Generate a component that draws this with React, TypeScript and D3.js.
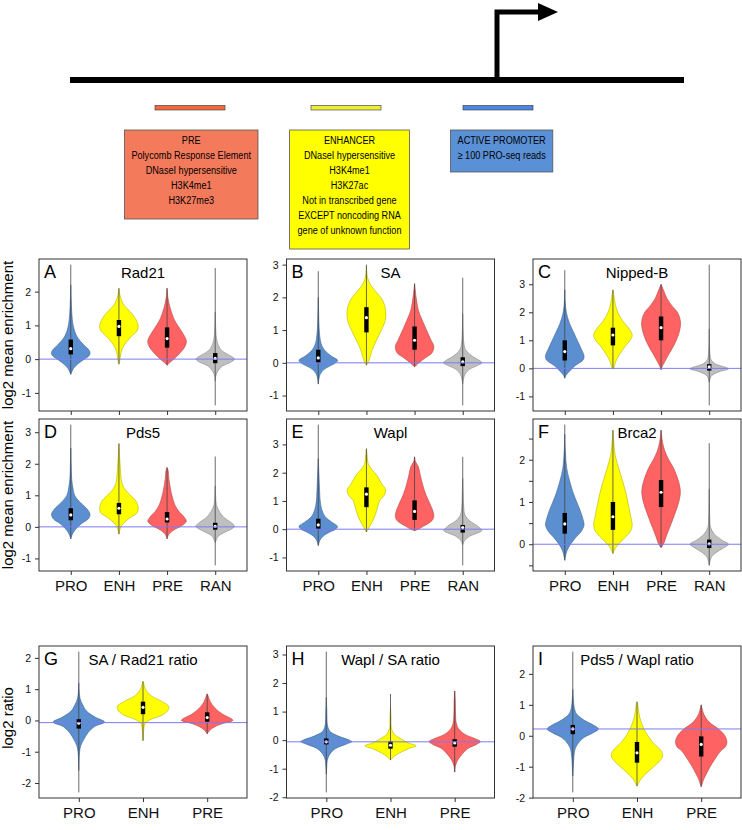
import React, { useRef, useEffect } from 'react';
import * as d3 from 'd3';

type Violin = { g: string; lo: number; hi: number; q1: number; med: number; q3: number; shape: [number, number][] };

// fill colour per site class
const violinFill: Record<string, string> = { PRO: '#5b8fd0', ENH: '#ffff00', PRE: '#ff6262', RAN: '#bfbfbf' };

// shape = [log2 value, relative half width]
const rad21: Violin[] = [
  { g: 'PRO', lo: -0.45, hi: 2.8, q1: 0.14, med: 0.31, q3: 0.58, shape: [[-0.45, 0], [-0.38, 0.05], [-0.27, 0.15], [-0.15, 0.35], [0, 0.7], [0.1, 0.95], [0.2, 1], [0.3, 0.9], [0.42, 0.68], [0.66, 0.33], [0.98, 0.13], [1.39, 0.05], [1.8, 0.02], [2.2, 0]] },
  { g: 'ENH', lo: -0.15, hi: 2.1, q1: 0.68, med: 0.97, q3: 1.16, shape: [[-0.15, 0], [-0.1, 0.03], [0.1, 0.08], [0.3, 0.17], [0.5, 0.38], [0.7, 0.7], [0.85, 0.95], [1.0, 1], [1.2, 0.86], [1.4, 0.6], [1.6, 0.26], [1.9, 0.05], [2.1, 0]] },
  { g: 'PRE', lo: -0.18, hi: 2.1, q1: 0.34, med: 0.61, q3: 0.94, shape: [[-0.18, 0], [-0.1, 0.14], [0, 0.35], [0.2, 0.7], [0.4, 0.95], [0.55, 1], [0.8, 0.78], [1.0, 0.55], [1.2, 0.35], [1.5, 0.17], [1.8, 0.05], [2.1, 0]] },
  { g: 'RAN', lo: -1.37, hi: 2.7, q1: -0.12, med: 0.02, q3: 0.18, shape: [[-0.65, 0], [-0.5, 0.03], [-0.35, 0.14], [-0.2, 0.38], [-0.1, 0.78], [0, 1], [0.1, 0.78], [0.25, 0.35], [0.4, 0.17], [0.6, 0.07], [1.0, 0.02], [1.4, 0]] },
];

const sa: Violin[] = [
  { g: 'PRO', lo: -0.65, hi: 2.8, q1: 0.0, med: 0.15, q3: 0.4, shape: [[-0.65, 0], [-0.5, 0.03], [-0.35, 0.1], [-0.2, 0.31], [-0.1, 0.6], [0, 0.9], [0.08, 1], [0.2, 0.69], [0.4, 0.31], [0.6, 0.14], [1.0, 0.05], [1.5, 0.02], [2.0, 0]] },
  { g: 'ENH', lo: -0.07, hi: 3.0, q1: 0.93, med: 1.38, q3: 1.7, shape: [[-0.07, 0], [0, 0.08], [0.2, 0.2], [0.4, 0.3], [0.7, 0.53], [1.0, 0.78], [1.3, 0.98], [1.6, 1], [1.9, 0.85], [2.1, 0.6], [2.35, 0.25], [2.6, 0.06], [2.95, 0]] },
  { g: 'PRE', lo: -0.12, hi: 2.42, q1: 0.4, med: 0.69, q3: 1.11, shape: [[-0.12, 0], [-0.1, 0.05], [0, 0.22], [0.15, 0.55], [0.3, 0.9], [0.5, 1], [0.7, 0.85], [1.0, 0.62], [1.3, 0.4], [1.6, 0.2], [2.0, 0.08], [2.42, 0]] },
  { g: 'RAN', lo: -1.3, hi: 2.6, q1: -0.1, med: 0.03, q3: 0.17, shape: [[-0.65, 0], [-0.5, 0.04], [-0.35, 0.12], [-0.2, 0.35], [-0.1, 0.7], [0, 1], [0.08, 0.85], [0.2, 0.5], [0.4, 0.15], [0.6, 0.06], [1.0, 0.02], [1.5, 0]] },
];

const nippedB: Violin[] = [
  { g: 'PRO', lo: -0.35, hi: 3.5, q1: 0.28, med: 0.6, q3: 1.0, shape: [[-0.35, 0], [-0.25, 0.06], [-0.1, 0.25], [0.1, 0.55], [0.3, 0.95], [0.45, 1], [0.7, 0.85], [1.0, 0.65], [1.3, 0.45], [1.6, 0.25], [2.0, 0.08], [2.4, 0.02], [2.8, 0]] },
  { g: 'ENH', lo: -0.02, hi: 2.8, q1: 0.82, med: 1.19, q3: 1.45, shape: [[-0.02, 0], [0, 0.04], [0.25, 0.15], [0.5, 0.35], [0.8, 0.65], [1.0, 0.9], [1.2, 1], [1.4, 0.85], [1.7, 0.5], [2.0, 0.25], [2.3, 0.12], [2.6, 0.05], [2.8, 0]] },
  { g: 'PRE', lo: -0.05, hi: 3.0, q1: 1.0, med: 1.45, q3: 1.85, shape: [[-0.05, 0], [0.05, 0.05], [0.25, 0.2], [0.5, 0.4], [0.8, 0.65], [1.1, 0.85], [1.4, 0.98], [1.7, 1], [2.0, 0.85], [2.2, 0.6], [2.5, 0.3], [2.8, 0.12], [3.0, 0]] },
  { g: 'RAN', lo: -1.32, hi: 3.7, q1: -0.08, med: 0.05, q3: 0.15, shape: [[-0.5, 0], [-0.45, 0.02], [-0.3, 0.08], [-0.2, 0.25], [-0.1, 0.6], [-0.02, 1], [0.05, 0.8], [0.15, 0.35], [0.3, 0.1], [0.5, 0.04], [1.0, 0.01], [1.4, 0]] },
];

const pds5: Violin[] = [
  { g: 'PRO', lo: -0.38, hi: 3.24, q1: 0.21, med: 0.38, q3: 0.59, shape: [[-0.38, 0], [-0.25, 0.07], [-0.1, 0.22], [0.1, 0.55], [0.25, 0.9], [0.4, 1], [0.6, 0.8], [0.8, 0.45], [1.0, 0.2], [1.2, 0.12], [1.5, 0.05], [2.0, 0.02], [2.5, 0]] },
  { g: 'ENH', lo: -0.23, hi: 2.64, q1: 0.4, med: 0.59, q3: 0.76, shape: [[-0.23, 0], [-0.15, 0.03], [0, 0.1], [0.15, 0.3], [0.3, 0.6], [0.45, 0.95], [0.6, 1], [0.8, 0.9], [1.0, 0.6], [1.2, 0.3], [1.4, 0.15], [1.8, 0.08], [2.3, 0.03], [2.64, 0]] },
  { g: 'PRE', lo: -0.38, hi: 1.88, q1: 0.14, med: 0.25, q3: 0.47, shape: [[-0.38, 0], [-0.25, 0.08], [-0.1, 0.35], [0.05, 0.8], [0.18, 1], [0.3, 0.9], [0.5, 0.6], [0.7, 0.4], [1.0, 0.25], [1.2, 0.18], [1.5, 0.1], [1.8, 0.05], [1.88, 0]] },
  { g: 'RAN', lo: -1.22, hi: 2.23, q1: -0.09, med: 0.02, q3: 0.13, shape: [[-0.5, 0], [-0.45, 0.03], [-0.3, 0.15], [-0.2, 0.4], [-0.1, 0.75], [0.02, 1], [0.15, 0.8], [0.3, 0.45], [0.5, 0.2], [0.7, 0.06], [1.0, 0.02], [1.3, 0]] },
];

const wapl: Violin[] = [
  { g: 'PRO', lo: -0.58, hi: 3.7, q1: 0.01, med: 0.15, q3: 0.37, shape: [[-0.58, 0], [-0.4, 0.08], [-0.25, 0.25], [-0.1, 0.6], [0, 0.9], [0.1, 1], [0.25, 0.7], [0.45, 0.35], [0.7, 0.18], [1.0, 0.1], [1.5, 0.06], [2.0, 0.03], [2.5, 0]] },
  { g: 'ENH', lo: -0.1, hi: 2.85, q1: 0.78, med: 1.24, q3: 1.48, shape: [[-0.1, 0], [0, 0.08], [0.2, 0.25], [0.4, 0.4], [0.7, 0.55], [1.0, 0.68], [1.2, 0.92], [1.4, 1], [1.6, 0.8], [1.9, 0.55], [2.1, 0.3], [2.3, 0.1], [2.6, 0.04], [2.85, 0]] },
  { g: 'PRE', lo: -0.05, hi: 2.56, q1: 0.33, med: 0.63, q3: 1.02, shape: [[-0.05, 0], [0, 0.2], [0.1, 0.45], [0.3, 0.9], [0.45, 1], [0.6, 0.97], [0.9, 0.8], [1.2, 0.6], [1.5, 0.45], [1.9, 0.3], [2.2, 0.2], [2.4, 0.04], [2.56, 0]] },
  { g: 'RAN', lo: -1.28, hi: 2.56, q1: -0.12, med: 0.06, q3: 0.15, shape: [[-0.55, 0], [-0.4, 0.1], [-0.25, 0.35], [-0.15, 0.7], [-0.05, 1], [0, 0.95], [0.15, 0.7], [0.3, 0.35], [0.5, 0.12], [0.8, 0.05], [1.4, 0.02], [1.8, 0]] },
];

const brca2: Violin[] = [
  { g: 'PRO', lo: -0.38, hi: 2.83, q1: 0.25, med: 0.48, q3: 0.74, shape: [[-0.38, 0], [-0.3, 0.03], [-0.15, 0.12], [0, 0.3], [0.15, 0.55], [0.3, 0.85], [0.45, 1], [0.55, 0.97], [0.8, 0.8], [1.0, 0.62], [1.2, 0.45], [1.5, 0.25], [1.8, 0.1], [2.2, 0.03], [2.6, 0]] },
  { g: 'ENH', lo: -0.22, hi: 2.7, q1: 0.34, med: 0.65, q3: 1.0, shape: [[-0.22, 0], [-0.15, 0.06], [-0.05, 0.2], [0.1, 0.5], [0.3, 0.9], [0.45, 1], [0.6, 0.95], [0.9, 0.82], [1.2, 0.68], [1.5, 0.5], [1.8, 0.3], [2.1, 0.12], [2.5, 0.03], [2.7, 0]] },
  { g: 'PRE', lo: -0.08, hi: 2.7, q1: 0.88, med: 1.23, q3: 1.52, shape: [[-0.08, 0], [0, 0.12], [0.2, 0.28], [0.4, 0.45], [0.7, 0.7], [1.0, 0.92], [1.25, 1], [1.5, 0.9], [1.8, 0.65], [2.0, 0.4], [2.2, 0.2], [2.4, 0.08], [2.6, 0.02], [2.7, 0]] },
  { g: 'RAN', lo: -0.5, hi: 2.39, q1: -0.09, med: 0.01, q3: 0.11, shape: [[-0.5, 0], [-0.45, 0.02], [-0.3, 0.12], [-0.2, 0.35], [-0.1, 0.7], [0, 1], [0.1, 0.65], [0.25, 0.25], [0.4, 0.07], [0.6, 0.03], [1.0, 0.01], [1.3, 0]] },
];

const saRad21: Violin[] = [
  { g: 'PRO', lo: -2.3, hi: 2.2, q1: -0.26, med: -0.09, q3: 0.04, shape: [[-1.6, 0], [-1.3, 0.01], [-1.0, 0.03], [-0.8, 0.08], [-0.6, 0.2], [-0.4, 0.35], [-0.2, 0.6], [-0.05, 1], [0.1, 0.65], [0.3, 0.3], [0.5, 0.15], [0.7, 0.05], [1.0, 0.01], [1.2, 0]] },
  { g: 'ENH', lo: -0.65, hi: 1.25, q1: 0.2, med: 0.42, q3: 0.6, shape: [[-0.65, 0], [-0.55, 0.01], [-0.3, 0.03], [-0.1, 0.08], [0.05, 0.35], [0.15, 0.7], [0.3, 0.95], [0.45, 1], [0.6, 0.75], [0.8, 0.3], [1.0, 0.1], [1.2, 0.02], [1.25, 0]] },
  { g: 'PRE', lo: -0.43, hi: 0.85, q1: -0.04, med: 0.09, q3: 0.26, shape: [[-0.43, 0], [-0.3, 0.12], [-0.2, 0.3], [-0.1, 0.6], [0, 1], [0.05, 0.95], [0.2, 0.6], [0.4, 0.3], [0.6, 0.12], [0.8, 0.03], [0.85, 0]] },
];

const waplSa: Violin[] = [
  { g: 'PRO', lo: -1.83, hi: 3.1, q1: -0.15, med: -0.06, q3: 0.06, shape: [[-1.2, 0], [-0.9, 0.02], [-0.7, 0.04], [-0.5, 0.13], [-0.3, 0.35], [-0.15, 0.75], [-0.05, 1], [0, 0.9], [0.15, 0.45], [0.3, 0.15], [0.5, 0.05], [1.0, 0.02], [1.5, 0]] },
  { g: 'ENH', lo: -0.7, hi: 1.62, q1: -0.3, med: -0.18, q3: -0.04, shape: [[-0.7, 0], [-0.6, 0.1], [-0.45, 0.35], [-0.3, 0.7], [-0.2, 1], [-0.1, 0.7], [0.05, 0.4], [0.2, 0.15], [0.4, 0.04], [0.8, 0.02], [1.2, 0]] },
  { g: 'PRE', lo: -1.12, hi: 1.72, q1: -0.23, med: -0.1, q3: 0.03, shape: [[-1.12, 0], [-0.9, 0.03], [-0.7, 0.12], [-0.5, 0.28], [-0.3, 0.5], [-0.15, 0.85], [-0.05, 1], [0.05, 0.8], [0.2, 0.4], [0.4, 0.15], [0.6, 0.06], [1.0, 0.03], [1.4, 0.02], [1.72, 0]] },
];

const pds5Wapl: Violin[] = [
  { g: 'PRO', lo: -1.83, hi: 2.72, q1: 0.05, med: 0.22, q3: 0.35, shape: [[-1.3, 0], [-1.0, 0.02], [-0.7, 0.04], [-0.4, 0.1], [-0.2, 0.25], [-0.05, 0.45], [0.1, 0.8], [0.22, 1], [0.35, 0.8], [0.5, 0.45], [0.7, 0.15], [0.9, 0.06], [1.2, 0.02], [1.5, 0]] },
  { g: 'ENH', lo: -1.63, hi: 1.1, q1: -0.87, med: -0.55, q3: -0.2, shape: [[-1.63, 0], [-1.55, 0.05], [-1.4, 0.15], [-1.2, 0.38], [-1.0, 0.65], [-0.8, 0.9], [-0.65, 1], [-0.5, 0.95], [-0.2, 0.6], [0.1, 0.35], [0.4, 0.18], [0.7, 0.08], [1.0, 0.03], [1.1, 0]] },
  { g: 'PRE', lo: -1.65, hi: 1.0, q1: -0.67, med: -0.28, q3: -0.02, shape: [[-1.65, 0], [-1.55, 0.04], [-1.4, 0.1], [-1.2, 0.22], [-1.0, 0.35], [-0.8, 0.5], [-0.5, 0.75], [-0.35, 0.95], [-0.2, 1], [0, 0.92], [0.2, 0.7], [0.45, 0.3], [0.7, 0.1], [0.9, 0.03], [1.0, 0]] },
];

const panelData = [rad21, sa, nippedB, pds5, wapl, brca2, saRad21, waplSa, pds5Wapl];
const panelLetters = ['A', 'B', 'C', 'D', 'E', 'F', 'G', 'H', 'I'];
const panelTitles = ['Rad21', 'SA', 'Nipped-B', 'Pds5', 'Wapl', 'Brca2', 'SA / Rad21 ratio', 'Wapl / SA ratio', 'Pds5 / Wapl ratio'];
const panelRefs = [0, 0, 0, 0, 0, 0, -0.07, -0.06, 0.22];
const panelTickStep = [1, 1, 1, 1, 1, 0.5, 1, 1, 1];
const rowTitles = ['log2 mean enrichment', 'log2 mean enrichment', 'log2 ratio'];

// top schematic
const preLines = ['PRE', 'Polycomb Response Element', 'DNaseI hypersensitive', 'H3K4me1', 'H3K27me3'];
const enhLines = ['ENHANCER', 'DNaseI hypersensitive', 'H3K4me1', 'H3K27ac', 'Not in transcribed gene', 'EXCEPT noncoding RNA', 'gene of unknown function'];
const proLines = ['ACTIVE PROMOTER', '\u2265 100 PRO-seq reads'];

const FONT = '"Liberation Sans", Arial, sans-serif';

const App = () => {
  const svgRef = useRef<SVGSVGElement>(null);

  useEffect(() => {
    const svg = d3.select(svgRef.current);
    svg.selectAll('*').remove();
    svg.append('rect').attr('width', 742).attr('height', 830).attr('fill', 'white');

    // ---- gene schematic ----
    const top = svg.append('g');
    top.append('line').attr('x1', 70).attr('x2', 684).attr('y1', 80).attr('y2', 80)
      .attr('stroke', 'black').attr('stroke-width', 6);
    top.append('path').attr('d', 'M497,82 V12 H541').attr('fill', 'none')
      .attr('stroke', 'black').attr('stroke-width', 5);
    top.append('path').attr('d', 'M538,3 L558,12 L538,21 Z').attr('fill', 'black');

    const bars = [
      { x: 155, w: 70, fill: '#f26a3c' },
      { x: 311, w: 70, fill: '#eded3a' },
      { x: 463, w: 70, fill: '#4d88e0' },
    ];
    top.selectAll('.bar').data(bars).join('rect').attr('class', 'bar')
      .attr('x', d => d.x).attr('y', 105.5).attr('width', d => d.w).attr('height', 4.5)
      .attr('fill', d => d.fill).attr('stroke', '#333').attr('stroke-width', 0.6);

    const boxes = [
      { x: 124.5, y: 130, w: 133.5, h: 89, fill: '#f47a5c', lines: preLines },
      { x: 289.6, y: 130, w: 119.8, h: 119, fill: '#ffff00', lines: enhLines },
      { x: 450.5, y: 130, w: 102.3, h: 42, fill: '#5a90d6', lines: proLines },
    ];
    const sx = 0.83;
    boxes.forEach(b => {
      top.append('rect').attr('x', b.x).attr('y', b.y).attr('width', b.w).attr('height', b.h)
        .attr('fill', b.fill).attr('stroke', '#555').attr('stroke-width', 0.8);
      top.append('g').attr('transform', `scale(${sx},1)`)
        .selectAll('text').data(b.lines).join('text')
        .attr('x', (b.x + b.w / 2) / sx).attr('y', (d, i) => 141 + i * 15)
        .attr('dominant-baseline', 'middle').attr('text-anchor', 'middle')
        .attr('font-family', FONT).attr('font-size', 11).attr('fill', 'black')
        .text(d => d);
    });

    // ---- violin panels ----
    const colX = [39, 286.5, 533];
    const rowY = [259, 419, 646];
    const frameW = 208, frameH = 152;

    panelData.forEach((data, i) => {
      const row = Math.floor(i / 3), col = i % 3;
      const left = colX[col], ptop = rowY[row];
      const n = data.length;
      const x = d3.scaleLinear().domain([0.5 - 0.04 * n, n + 0.5 + 0.04 * n]).range([left, left + frameW]);
      const lo = d3.min(data, d => d.lo)!, hi = d3.max(data, d => d.hi)!;
      const pad = 0.04 * (hi - lo);
      const y = d3.scaleLinear().domain([lo - pad, hi + pad]).range([ptop + frameH, ptop]);

      const g = svg.append('g');
      g.append('clipPath').attr('id', `clip${i}`).append('rect')
        .attr('x', left).attr('y', ptop).attr('width', frameW).attr('height', frameH);
      const plot = g.append('g').attr('clip-path', `url(#clip${i})`);

      const half = x(0.4) - x(0);
      data.forEach((v, k) => {
        const cx = x(k + 1);
        const area = d3.area<[number, number]>()
          .curve(d3.curveCatmullRom.alpha(0.5))
          .y(d => y(d[0]))
          .x0(d => cx - half * Math.max(0, d[1]))
          .x1(d => cx + half * Math.max(0, d[1]));
        const fill = violinFill[v.g];
        plot.append('path').attr('d', area(v.shape))
          .attr('fill', fill)
          .attr('stroke', d3.color(fill)!.darker(1).formatHex())
          .attr('stroke-width', 0.6);
        plot.append('line').attr('x1', cx).attr('x2', cx).attr('y1', y(v.lo)).attr('y2', y(v.hi))
          .attr('stroke', '#444').attr('stroke-width', 0.8);
        plot.append('rect').attr('x', cx - 2.2).attr('width', 4.4)
          .attr('y', y(v.q3)).attr('height', y(v.q1) - y(v.q3)).attr('fill', 'black');
        plot.append('circle').attr('cx', cx).attr('cy', y(v.med)).attr('r', 1.6).attr('fill', 'white');
      });

      plot.append('line').attr('x1', left).attr('x2', left + frameW)
        .attr('y1', y(panelRefs[i])).attr('y2', y(panelRefs[i]))
        .attr('stroke', '#7b7bf2').attr('stroke-width', 1);

      // frame
      g.append('rect').attr('x', left).attr('y', ptop).attr('width', frameW).attr('height', frameH)
        .attr('fill', 'none').attr('stroke', '#333').attr('stroke-width', 1);

      // y axis
      const step = panelTickStep[i];
      const [d0, d1] = y.domain();
      const ticks = d3.range(Math.ceil(d0 / step) * step, d1 + 1e-9, step);
      const yAxis = g.append('g').attr('transform', `translate(${left},0)`)
        .call(d3.axisLeft(y).tickValues(ticks).tickSize(4).tickPadding(4)
          .tickFormat(d => (Number.isInteger(+d) ? String(+d) : '')));
      yAxis.select('.domain').remove();
      yAxis.selectAll('line').attr('stroke', '#333');
      yAxis.selectAll('text').attr('font-family', FONT).attr('font-size', 10.5).attr('fill', '#111');

      // x axis
      const names = data.map(d => d.g);
      const xAxis = g.append('g').attr('transform', `translate(0,${ptop + frameH})`)
        .call(d3.axisBottom(x).tickValues(d3.range(1, n + 1)).tickSize(4).tickPadding(5)
          .tickFormat(d => (row === 0 ? '' : names[+d - 1])));
      xAxis.select('.domain').remove();
      xAxis.selectAll('line').attr('stroke', '#333');
      xAxis.selectAll('text').attr('font-family', FONT).attr('font-size', 15).attr('fill', '#111');

      // letter and title
      g.append('text').attr('x', left + 5).attr('y', ptop + 19)
        .attr('font-family', FONT).attr('font-size', 18).text(panelLetters[i]);
      g.append('text').attr('x', left + frameW / 2).attr('y', ptop + 19)
        .attr('text-anchor', 'middle').attr('font-family', FONT).attr('font-size', 15)
        .text(panelTitles[i]);
    });

    // row titles
    rowTitles.forEach((t, r) => {
      const cy = rowY[r] + frameH / 2 - (r === 2 ? 4 : 0);
      svg.append('text').attr('transform', `translate(13,${cy}) rotate(-90)`)
        .attr('text-anchor', 'middle').attr('font-family', FONT).attr('font-size', 15)
        .text(t);
    });
  }, []);

  return (
    <svg ref={svgRef} width={742} height={830}
      style={{ position: 'absolute', left: 0, top: 0, display: 'block' }} />
  );
};

export default App;
